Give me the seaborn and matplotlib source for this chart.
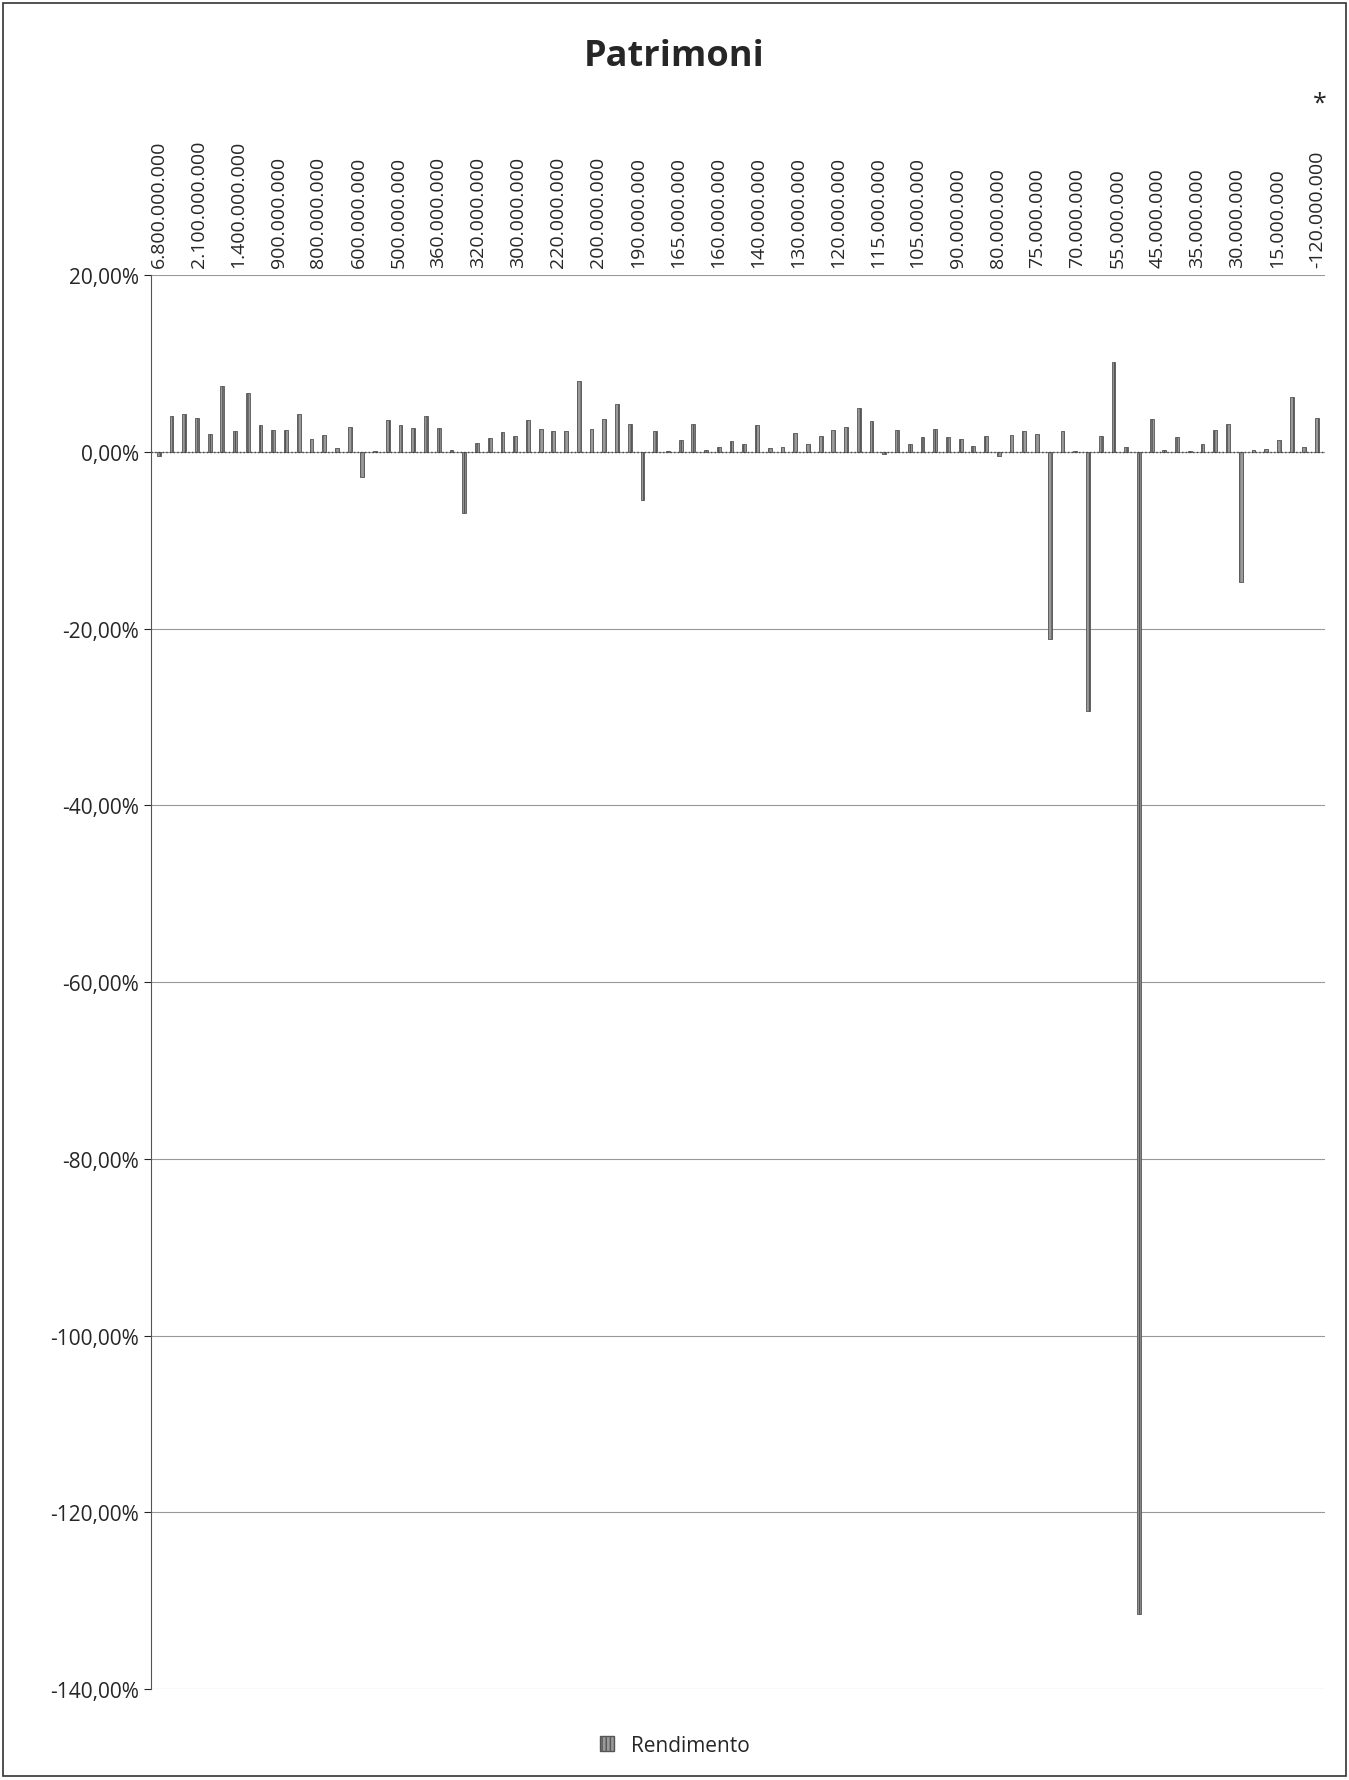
import numpy as np
import pandas as pd
import seaborn as sns
import matplotlib.pyplot as plt
from matplotlib.patches import Patch

rendimento = [
    -0.5, 4.0, 4.3, 3.8, 2.0, 7.5, 2.4, 6.7, 3.0, 2.5, 2.5, 4.3, 1.5, 1.9, 0.4, 2.8,
    -2.8, 0.1, 3.6, 3.0, 2.7, 4.1, 2.7, 0.2, -6.9, 1.0, 1.6, 2.2, 1.8, 3.6, 2.6, 2.4,
    2.3, 8.0, 2.6, 3.7, 5.4, 3.1, -5.4, 2.3, 0.1, 1.3, 3.2, 0.2, 0.5, 1.2,
    0.9, 3.0, 0.4, 0.6, 2.1, 0.9, 1.8, 2.5, 2.8, 5.0, 3.5, -0.3, 2.5, 0.9, 1.7,
    2.6, 1.7, 1.5, 0.7, 1.8, -0.5, 1.9, 2.3, 2.0, -21.2, 2.3, 0.1, -29.3, 1.8, 10.2,
    0.6, -131.5, 3.7, 0.2, 1.7, 0.1, 0.9, 2.5, 3.1, -14.7, 0.2, 0.3, 1.3, 6.2, 0.6, 3.8,
]
tick_labels = [
    "6.800.000.000", "2.100.000.000", "1.400.000.000", "900.000.000", "800.000.000",
    "600.000.000", "500.000.000", "360.000.000", "320.000.000", "300.000.000",
    "220.000.000", "200.000.000", "190.000.000", "165.000.000", "160.000.000",
    "140.000.000", "130.000.000", "120.000.000", "115.000.000", "105.000.000",
    "90.000.000", "80.000.000", "75.000.000", "70.000.000", "55.000.000",
    "45.000.000", "35.000.000", "30.000.000", "15.000.000", "-120.000.000",
]

n = len(rendimento)
df = pd.DataFrame({"pos": np.arange(n), "Rendimento": rendimento})

sns.set_style("white")
plt.rcParams["font.family"] = ["Open Sans", "DejaVu Sans"]

fig = plt.figure(figsize=(13.49, 17.81), dpi=100)
ax = fig.add_axes([0.112, 0.051, 0.870, 0.794])
sns.barplot(data=df, x="pos", y="Rendimento", color="#9a9a9a", width=0.3,
            edgecolor="#555555", linewidth=0.6, ax=ax, native_scale=True)
for p in ax.patches:
    p.set_hatch("||||")

ax.set_xlim(-0.6, n - 0.4)
ax.set_ylim(-140, 20)
ax.set_yticks(np.arange(-140, 21, 20))
ax.set_yticklabels([f"{v:.2f}%".replace(".", ",") for v in range(-140, 21, 20)], fontsize=15)
ax.yaxis.grid(True, color="#999999", linewidth=0.8)
ax.set_axisbelow(True)
ax.set_xlabel("")
ax.set_ylabel("")

pos = np.linspace(0, n - 1, len(tick_labels))
ax.xaxis.tick_top()
ax.set_xticks(pos)
ax.set_xticklabels(tick_labels, rotation=90, fontsize=14)
ax.tick_params(axis="x", length=0, pad=6)
ax.tick_params(axis="y", length=5, left=True)
ax.axhline(0, color="#444444", linewidth=1, linestyle=":")
for s in ["top", "right", "bottom"]:
    ax.spines[s].set_visible(False)
ax.spines["left"].set_color("#555555")
fig.text(0.978, 0.938, "*", fontsize=18, ha="center")

fig.suptitle("Patrimoni", y=0.978, fontsize=26, fontweight="bold")
fig.legend(handles=[Patch(facecolor="#9a9a9a", edgecolor="#555555", hatch="||||", label="Rendimento")],
           loc="lower center", bbox_to_anchor=(0.5, 0.003), frameon=False, fontsize=15,
           handlelength=0.7, handleheight=0.7)
fig.patches.append(plt.Rectangle((0.002, 0.002), 0.996, 0.996, transform=fig.transFigure,
                                 fill=False, edgecolor="#333333", linewidth=1.2))
fig.savefig("out.png", dpi=100)
